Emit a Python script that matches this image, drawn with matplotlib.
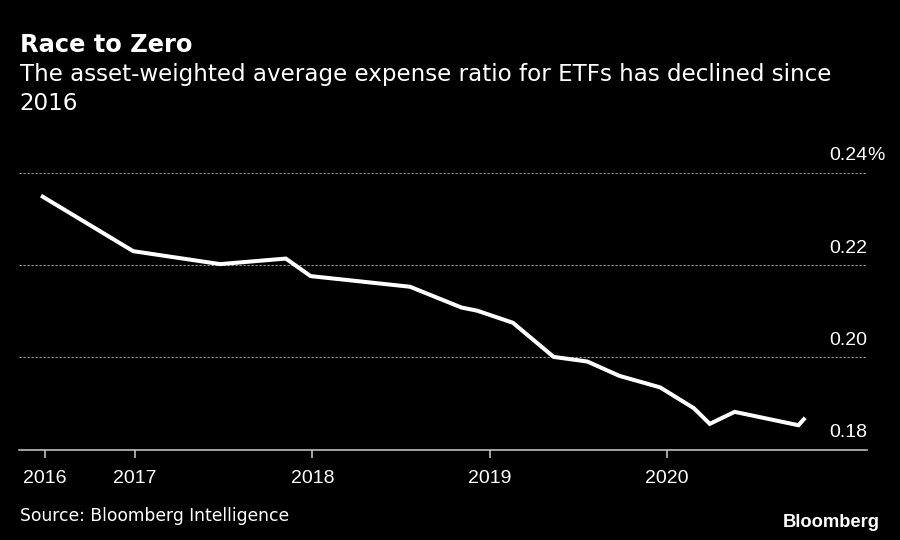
import matplotlib
matplotlib.use("Agg")
import matplotlib.pyplot as plt

# expense ratio (%), x in decimal years
dates = [2016.48, 2016.99, 2017.48, 2017.85, 2017.99, 2018.55, 2018.84, 2018.93,
         2019.13, 2019.36, 2019.55, 2019.73, 2019.96, 2020.15, 2020.24, 2020.38,
         2020.74, 2020.77]
ratio = [0.2348, 0.2230, 0.2202, 0.2214, 0.2176, 0.2153, 0.2108, 0.2101,
         0.2075, 0.2001, 0.1991, 0.1960, 0.1935, 0.1890, 0.1856, 0.1882,
         0.1853, 0.1866]
year_ticks = [2016.49, 2017, 2018, 2019, 2020]
year_labels = ["2016", "2017", "2018", "2019", "2020"]
y_levels = [0.18, 0.20, 0.22, 0.24]
y_labels = ["0.18", "0.20", "0.22", "0.24"]

plt.rcParams["font.family"] = ["Liberation Sans", "DejaVu Sans"]

fig = plt.figure(figsize=(9, 5.4), dpi=100, facecolor="black")
ax = fig.add_axes([0.0211, 0.1672, 0.9422, 0.513])
ax.set_facecolor("black")

# dotted grid
for lv in y_levels[1:]:
    ax.axhline(lv, color="#9a9a9a", lw=0.8, linestyle=(0, (2, 1.6)), zorder=1)

ax.plot(dates, ratio, color="white", lw=2.9, solid_joinstyle="miter", zorder=3)

ax.set_xlim(2016.346, 2021.126)
ax.set_ylim(0.18, 0.24)

for s in ["top", "right", "left"]:
    ax.spines[s].set_visible(False)
ax.spines["bottom"].set_color("#cfcfcf")
ax.spines["bottom"].set_linewidth(1.1)

ax.set_yticks([])
ax.set_xticks(year_ticks)
ax.set_xticklabels(year_labels)
ax.tick_params(axis="x", colors="#cfcfcf", length=5.5, width=1.1, pad=9,
               labelsize=14, labelcolor="white")

# y labels sit above their gridlines at the right edge
for lv, lab in zip(y_levels, y_labels):
    ax.annotate(lab, xy=(1, lv), xycoords=("axes fraction", "data"),
                xytext=(0, 9), textcoords="offset points",
                ha="right", va="baseline", color="white", fontsize=14)
ax.annotate("%", xy=(1, 0.24), xycoords=("axes fraction", "data"),
            xytext=(0, 9), textcoords="offset points",
            ha="left", va="baseline", color="white", fontsize=14)

fig.text(0.022, 0.9031, "Race to Zero", color="white", fontsize=17.4,
         fontweight="bold", family="DejaVu Sans", va="baseline")
fig.text(0.022, 0.85,
         "The asset-weighted average expense ratio for ETFs has declined since",
         color="white", fontsize=16.6, family="DejaVu Sans", va="baseline")
fig.text(0.022, 0.7954, "2016", color="white", fontsize=16.6,
         family="DejaVu Sans", va="baseline")
fig.text(0.022, 0.0357, "Source: Bloomberg Intelligence", color="white",
         fontsize=12.3, family="DejaVu Sans", va="baseline")
fig.text(0.978, 0.024, "Bloomberg", color="white", fontsize=13.2,
         fontweight="bold", ha="right", va="baseline")

plt.savefig("out.png", facecolor="black")
